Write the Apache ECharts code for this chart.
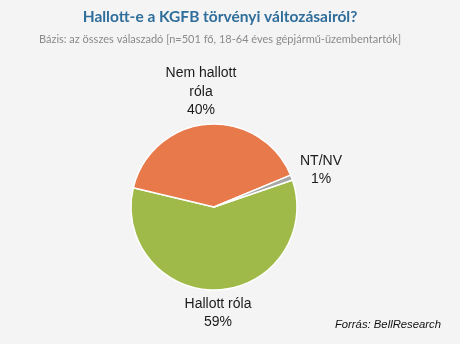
<!DOCTYPE html>
<html>
<head>
<meta charset="utf-8">
<script src="https://cdn.jsdelivr.net/npm/echarts@6/dist/echarts.min.js"></script>
<style>
  html, body { margin: 0; padding: 0; background: #f4f4f4; }
  #chart { width: 460px; height: 344px; }
</style>
</head>
<body>
<div id="chart"></div>
<script>
// Survey answers, in clockwise drawing order
const categories = ['Hallott róla', 'Nem hallott\nróla', 'NT/NV'];
const shares = [59, 40, 1];
const sliceColors = ['#9fba48', '#e8794a', '#a6a6a6'];

// Label anchor points (pixels) for each slice
const labelAnchors = [
  { x: 218, y: 313 },
  { x: 201, y: 92 },
  { x: 321, y: 170 }
];

const chart = echarts.init(document.getElementById('chart'), null, { renderer: 'canvas' });

chart.setOption({
  backgroundColor: '#f4f4f4',
  animation: false,
  title: [
    {
      text: 'Hallott-e a KGFB törvényi változásairól?',
      left: 215,
      textAlign: 'center',
      top: 4,
      textStyle: { fontFamily: 'Lato', fontWeight: 'bold', fontSize: 15.5, color: '#2f6e9b' }
    },
    {
      text: 'Bázis: az összes válaszadó [n=501 fő, 18-64 éves gépjármű-üzembentartók]',
      left: 215,
      textAlign: 'center',
      top: 29,
      textStyle: { fontFamily: 'Lato', fontWeight: 'normal', fontSize: 11, color: '#8a8a8a' }
    },
    {
      text: 'Forrás: BellResearch',
      right: 14,
      top: 314,
      textStyle: { fontFamily: 'Liberation Sans', fontStyle: 'italic', fontWeight: 'normal', fontSize: 11.3, color: '#111' }
    }
  ],
  series: [
    {
      type: 'pie',
      center: [214, 207],
      radius: [0, 83],
      startAngle: 19,
      clockwise: true,
      data: categories.map((name, i) => ({
        name: name,
        value: shares[i],
        itemStyle: { color: sliceColors[i] }
      })),
      itemStyle: { borderColor: '#ffffff', borderWidth: 1.5 },
      label: {
        show: true,
        position: 'outside',
        formatter: p => p.name + '\n' + p.value + '%',
        fontFamily: 'Liberation Sans',
        fontSize: 14,
        lineHeight: 18.5,
        color: '#1a1a1a',
        align: 'center'
      },
      labelLine: { show: false },
      labelLayout: p => ({
        x: labelAnchors[p.dataIndex].x,
        y: labelAnchors[p.dataIndex].y,
        align: 'center',
        verticalAlign: 'middle'
      }),
      emphasis: { disabled: true }
    }
  ]
});
</script>
</body>
</html>
